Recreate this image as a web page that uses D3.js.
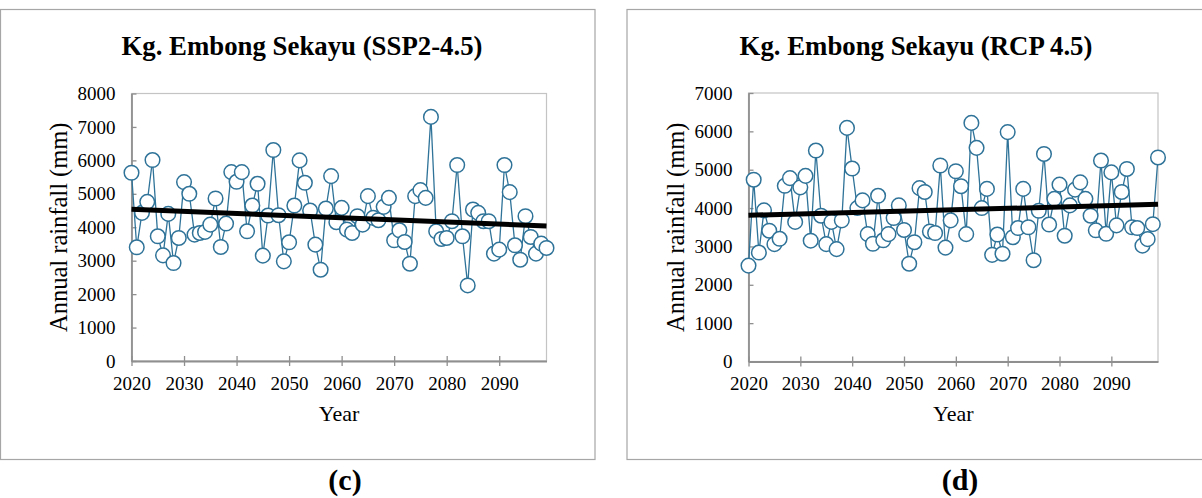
<!DOCTYPE html>
<html>
<head>
<meta charset="utf-8">
<script src="https://cdn.jsdelivr.net/npm/d3@7"></script>
<style>
  body { margin: 0; background: #fff; }
  svg { display: block; font-family: "Liberation Serif", "Times New Roman", serif; }
</style>
</head>
<body>
<div id="chart"></div>
<script>
// Years on the x axis
const years = d3.range(2020, 2100);

// Annual rainfall (mm), Kg. Embong Sekayu, SSP2-4.5
const ssp245Rain = [
  5630, 3400, 4430, 4760, 6010, 3730, 3160, 4400, 2930, 3680,
  5350, 5000, 3780, 3830, 3860, 4080, 4860, 3410, 4110, 5650,
  5360, 5650, 3880, 4650, 5300, 3150, 4350, 6310, 4360, 2980,
  3550, 4650, 6000, 5330, 4500, 3480, 2730, 4560, 5530, 4150,
  4580, 3930, 3830, 4330, 4080, 4930, 4280, 4210, 4610, 4880,
  3610, 3910, 3560, 2910, 4930, 5110, 4880, 7300, 3880, 3650,
  3680, 4180, 5860, 3730, 2260, 4530, 4430, 4180, 4180, 3210,
  3330, 5860, 5050, 3460, 3030, 4330, 3710, 3210, 3510, 3380
];

// Annual rainfall (mm), Kg. Embong Sekayu, RCP 4.5
const rcp45Rain = [
  2500, 4740, 2840, 3940, 3410, 3060, 3200, 4580, 4780, 3640,
  4540, 4840, 3150, 5500, 3800, 3060, 3640, 2930, 3680, 6090,
  5030, 4000, 4200, 3320, 3070, 4320, 3160, 3320, 3740, 4070,
  3430, 2550, 3110, 4520, 4420, 3390, 3350, 5110, 2970, 3680,
  4960, 4570, 3320, 6220, 5570, 4000, 4500, 2780, 3310, 2810,
  5980, 3240, 3480, 4500, 3500, 2640, 3930, 5410, 3570, 4240,
  4610, 3280, 4070, 4480, 4670, 4240, 3800, 3420, 5240, 3330,
  4930, 3550, 4420, 5020, 3500, 3480, 3020, 3190, 3580, 5320
];

const xTickYears = [2020, 2030, 2040, 2050, 2060, 2070, 2080, 2090];
const yTicksSsp = [0, 1000, 2000, 3000, 4000, 5000, 6000, 7000, 8000];
const yTicksRcp = [0, 1000, 2000, 3000, 4000, 5000, 6000, 7000];

const W = 1202, H = 498;
const lineColor = "#2f7399";

const svg = d3.select("#chart")
  .append("svg")
  .attr("width", W)
  .attr("height", H);

// least squares fit, returns function year -> value
function linearFit(xs, ys) {
  const mx = d3.mean(xs), my = d3.mean(ys);
  let sxy = 0, sxx = 0;
  xs.forEach(function(x, i) {
    sxy += (x - mx) * (ys[i] - my);
    sxx += (x - mx) * (x - mx);
  });
  const b = sxy / sxx;
  return function(x) { return my + b * (x - mx); };
}

function drawChart(cfg) {
  const g = svg.append("g");

  // outer chart frame
  g.append("rect")
    .attr("x", cfg.frame[0]).attr("y", cfg.frame[1])
    .attr("width", cfg.frame[2]).attr("height", cfg.frame[3])
    .attr("fill", "none")
    .attr("stroke", "#a6a6a6")
    .attr("stroke-width", 1.2);

  const x = d3.scaleLinear()
    .domain([2020, 2099])
    .range([cfg.plot.x0, cfg.plot.x1]);

  const y = d3.scaleLinear()
    .domain([0, d3.max(cfg.yTicks)])
    .range([cfg.plot.y1, cfg.plot.y0]);

  // plot area border
  g.append("rect")
    .attr("x", cfg.plot.x0).attr("y", cfg.plot.y0)
    .attr("width", cfg.plot.x1 - cfg.plot.x0)
    .attr("height", cfg.plot.y1 - cfg.plot.y0)
    .attr("fill", "none")
    .attr("stroke", "#c4c4c4")
    .attr("stroke-width", 1.2);

  // y axis (ticks crossing the line)
  const yAxis = g.append("g")
    .attr("transform", "translate(" + cfg.plot.x0 + ",0)")
    .call(d3.axisLeft(y).tickValues(cfg.yTicks).tickSize(5).tickSizeOuter(0).tickPadding(11).tickFormat(d3.format("d")));
  yAxis.selectAll(".tick line").attr("x2", 5);

  // x axis
  const xAxis = g.append("g")
    .attr("transform", "translate(0," + cfg.plot.y1 + ")")
    .call(d3.axisBottom(x).tickValues(xTickYears).tickSize(5).tickSizeOuter(0).tickPadding(10).tickFormat(d3.format("d")));
  xAxis.selectAll(".tick line").attr("y1", -5);

  g.selectAll(".domain")
    .attr("stroke", "#8f8f8f")
    .attr("stroke-width", 1.8);
  g.selectAll(".tick line")
    .attr("stroke", "#8f8f8f")
    .attr("stroke-width", 1.3);
  g.selectAll(".tick text")
    .attr("fill", "#000")
    .style("font-size", "19px")
    .style("font-family", "'Liberation Serif', serif");
  xAxis.selectAll(".tick text").attr("dy", "0.72em");

  // series line
  const pts = years.map(function(yr, i) { return { yr: yr, v: cfg.values[i] }; });
  g.append("path")
    .datum(pts)
    .attr("fill", "none")
    .attr("stroke", lineColor)
    .attr("stroke-width", 1.3)
    .attr("d", d3.line()
      .x(function(d) { return x(d.yr); })
      .y(function(d) { return y(d.v); }));

  // markers
  g.append("g")
    .selectAll("circle")
    .data(pts)
    .enter().append("circle")
      .attr("cx", function(d) { return x(d.yr); })
      .attr("cy", function(d) { return y(d.v); })
      .attr("r", 7.3)
      .attr("fill", "#fff")
      .attr("stroke", lineColor)
      .attr("stroke-width", 1.5);

  // linear trend line
  const fit = linearFit(years, cfg.values);
  g.append("line")
    .attr("x1", x(2020)).attr("y1", y(fit(2020)))
    .attr("x2", x(2099)).attr("y2", y(fit(2099)))
    .attr("stroke", "#000")
    .attr("stroke-width", 5);

  // titles
  g.append("text")
    .attr("x", cfg.titleX)
    .attr("y", 55)
    .attr("text-anchor", "middle")
    .style("font-size", "26.8px")
    .style("font-weight", "bold")
    .text(cfg.title);

  g.append("text")
    .attr("transform", "translate(" + (cfg.plot.x0 - 65) + "," + ((cfg.plot.y0 + cfg.plot.y1) / 2) + ") rotate(-90)")
    .attr("text-anchor", "middle")
    .style("font-size", "24.5px")
    .text("Annual rainfall (mm)");

  g.append("text")
    .attr("x", (cfg.plot.x0 + cfg.plot.x1) / 2)
    .attr("y", 421)
    .attr("text-anchor", "middle")
    .style("font-size", "22px")
    .text("Year");

  // panel letter below the frame
  svg.append("text")
    .attr("x", cfg.panelX)
    .attr("y", 490)
    .attr("text-anchor", "middle")
    .style("font-size", "30px")
    .style("font-weight", "bold")
    .text(cfg.panel);
}

drawChart({
  frame: [0.5, 9.5, 594.5, 450],
  plot: { x0: 131.5, x1: 546.5, y0: 93.5, y1: 361 },
  yTicks: yTicksSsp,
  values: ssp245Rain,
  title: "Kg. Embong Sekayu (SSP2-4.5)",
  titleX: 302,
  panel: "(c)",
  panelX: 345
});

drawChart({
  frame: [627, 9.5, 578, 450],
  plot: { x0: 748.5, x1: 1158, y0: 93, y1: 361.5 },
  yTicks: yTicksRcp,
  values: rcp45Rain,
  title: "Kg. Embong Sekayu (RCP 4.5)",
  titleX: 916,
  panel: "(d)",
  panelX: 960
});
</script>
</body>
</html>
